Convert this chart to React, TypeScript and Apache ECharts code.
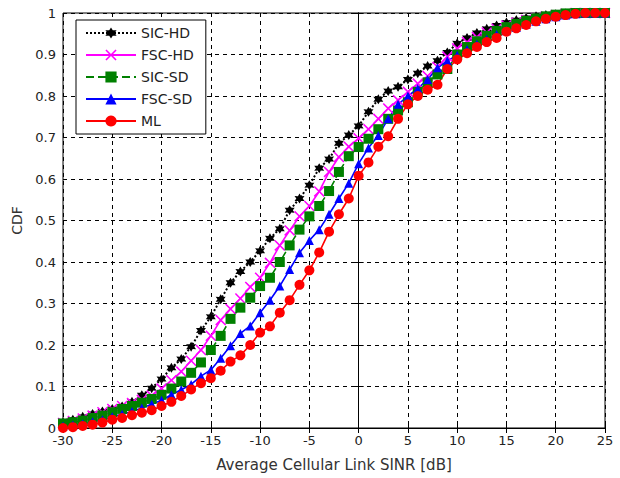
import React, { useEffect, useRef } from "react";
import * as echarts from "echarts";

const sinrDb: number[] = [];
for (let v = -30; v <= 25; v++) sinrDb.push(v);

const sicHd = [
  0.013, 0.020, 0.027, 0.034, 0.040, 0.046, 0.052, 0.063, 0.079, 0.096,
  0.118, 0.145, 0.166, 0.196, 0.235, 0.268, 0.310, 0.350, 0.377, 0.400,
  0.427, 0.457, 0.480, 0.525, 0.553, 0.585, 0.626, 0.648, 0.686, 0.706,
  0.728, 0.762, 0.792, 0.812, 0.822, 0.840, 0.855, 0.872, 0.885, 0.905,
  0.927, 0.940, 0.952, 0.962, 0.970, 0.977, 0.983, 0.988, 0.992, 0.995,
  0.997, 0.999, 1, 1, 1, 1,
];
const fscHd = [
  0.012, 0.017, 0.023, 0.030, 0.038, 0.046, 0.053, 0.060, 0.068, 0.078,
  0.095, 0.115, 0.136, 0.162, 0.188, 0.222, 0.260, 0.287, 0.312, 0.340,
  0.362, 0.398, 0.440, 0.476, 0.510, 0.535, 0.570, 0.617, 0.653, 0.678,
  0.698, 0.720, 0.745, 0.770, 0.790, 0.810, 0.830, 0.848, 0.870, 0.895,
  0.915, 0.930, 0.942, 0.953, 0.962, 0.970, 0.977, 0.983, 0.988, 0.992,
  0.995, 0.998, 1, 1, 1, 1,
];
const sicSd = [
  0.011, 0.014, 0.018, 0.024, 0.030, 0.038, 0.046, 0.053, 0.061, 0.070,
  0.080, 0.095, 0.112, 0.133, 0.158, 0.188, 0.222, 0.263, 0.290, 0.314,
  0.342, 0.362, 0.400, 0.440, 0.478, 0.510, 0.535, 0.571, 0.617, 0.655,
  0.677, 0.697, 0.720, 0.745, 0.765, 0.785, 0.810, 0.833, 0.852, 0.865,
  0.900, 0.918, 0.932, 0.945, 0.957, 0.966, 0.974, 0.981, 0.987, 0.992,
  0.996, 0.999, 1, 1, 1, 1,
];
const fscSd = [
  0.005, 0.007, 0.010, 0.015, 0.020, 0.027, 0.033, 0.040, 0.048, 0.057,
  0.067, 0.080, 0.092, 0.105, 0.125, 0.140, 0.168, 0.198, 0.228, 0.246,
  0.278, 0.308, 0.342, 0.382, 0.422, 0.452, 0.478, 0.515, 0.553, 0.590,
  0.637, 0.675, 0.705, 0.745, 0.780, 0.800, 0.818, 0.840, 0.868, 0.885,
  0.898, 0.912, 0.925, 0.937, 0.948, 0.957, 0.965, 0.973, 0.980, 0.986,
  0.991, 0.995, 0.998, 1, 1, 1,
];
const ml = [
  0.000, 0.002, 0.005, 0.008, 0.013, 0.020, 0.024, 0.031, 0.037, 0.043,
  0.053, 0.063, 0.077, 0.093, 0.108, 0.120, 0.138, 0.160, 0.175, 0.200,
  0.230, 0.245, 0.278, 0.308, 0.345, 0.380, 0.423, 0.473, 0.515, 0.553,
  0.608, 0.640, 0.678, 0.703, 0.745, 0.780, 0.800, 0.815, 0.827, 0.865,
  0.888, 0.903, 0.918, 0.930, 0.940, 0.955, 0.963, 0.971, 0.980, 0.986,
  0.991, 0.995, 0.998, 1, 1, 1,
];

const seriesNames = ["SIC-HD", "FSC-HD", "SIC-SD", "FSC-SD", "ML"];
const xTitle = "Average Cellular Link SINR [dB]";
const yTitle = "CDF";

function starPath(points: number, rOut: number, rIn: number): string {
  const parts: string[] = [];
  for (let i = 0; i < points * 2; i++) {
    const r = i % 2 === 0 ? rOut : rIn;
    const a = (Math.PI * i) / points - Math.PI / 2;
    const x = 10 + r * Math.cos(a);
    const y = 10 + r * Math.sin(a);
    parts.push((i === 0 ? "M" : "L") + x.toFixed(2) + "," + y.toFixed(2));
  }
  return "path://" + parts.join(" ") + " Z";
}

const STAR = starPath(6, 10, 5.5);
const XMARK =
  "path://M0,2 L2,0 L10,8 L18,0 L20,2 L12,10 L20,18 L18,20 L10,12 L2,20 L0,18 L8,10 Z";

const FONT = "DejaVu Sans, Liberation Sans, Arial, sans-serif";

export default function App() {
  const ref = useRef<HTMLDivElement>(null);
  useEffect(() => {
    if (!ref.current) return;
    const chart = echarts.init(ref.current, undefined, { renderer: "svg" });
    const mk = (arr: number[]) => sinrDb.map((x, i) => [x, arr[i]]);
    const styles = [
      { data: sicHd, color: "#000000", type: "dotted", width: 2, symbol: STAR, size: 10 },
      { data: fscHd, color: "#ff00ff", type: "solid", width: 1.6, symbol: XMARK, size: 11 },
      { data: sicSd, color: "#008000", type: "dashed", width: 1.6, symbol: "rect", size: 10 },
      { data: fscSd, color: "#0000ff", type: "solid", width: 1.6, symbol: "triangle", size: 9 },
      { data: ml, color: "#ff0000", type: "solid", width: 1.6, symbol: "circle", size: 10 },
    ];
    const axisCommonX = { type: "value", min: -30, max: 25, interval: 5 };
    const axisCommonY = { type: "value", min: 0, max: 1, interval: 0.1 };
    chart.setOption({
      animation: false,
      backgroundColor: "#ffffff",
      textStyle: { fontFamily: FONT },
      grid: {
        left: 63,
        top: 13,
        width: 542,
        height: 415,
        show: true,
        borderColor: "#000",
        borderWidth: 1,
        backgroundColor: "#fff",
      },
      legend: {
        orient: "vertical",
        left: 76,
        top: 20,
        data: seriesNames,
        backgroundColor: "#ffffff",
        borderColor: "#000",
        borderWidth: 1,
        borderRadius: 0,
        padding: [6, 12, 6, 9],
        itemGap: 8,
        itemWidth: 50,
        itemHeight: 14,
        textStyle: { fontFamily: FONT, fontSize: 14, color: "#222" },
      },
      xAxis: [
        {
          ...axisCommonX,
          position: "bottom",
          name: xTitle,
          nameLocation: "middle",
          nameGap: 29,
          nameTextStyle: { fontFamily: FONT, fontSize: 15, color: "#333" },
          axisLine: { show: true, lineStyle: { color: "#000", width: 1 } },
          axisTick: { show: true, inside: true, length: 5, lineStyle: { color: "#000" } },
          axisLabel: { fontFamily: FONT, fontSize: 13, color: "#222", margin: 6 },
          splitLine: { show: true, lineStyle: { color: "#000", type: [4, 4], width: 1 } },
        },
        {
          ...axisCommonX,
          position: "top",
          axisLine: { show: true, lineStyle: { color: "#000", width: 1 } },
          axisTick: { show: true, inside: true, length: 5, lineStyle: { color: "#000" } },
          axisLabel: { show: false },
          splitLine: { show: false },
        },
      ],
      yAxis: [
        {
          ...axisCommonY,
          position: "left",
          name: yTitle,
          nameLocation: "middle",
          nameGap: 34,
          nameTextStyle: { fontFamily: FONT, fontSize: 14, color: "#333" },
          axisLine: { show: true, lineStyle: { color: "#000", width: 1 } },
          axisTick: { show: true, inside: true, length: 5, lineStyle: { color: "#000" } },
          axisLabel: {
            fontFamily: FONT,
            fontSize: 13,
            color: "#222",
            margin: 7,
            formatter: (v: number) => String(Math.round(v * 10) / 10),
          },
          splitLine: { show: true, lineStyle: { color: "#000", type: [4, 4], width: 1 } },
        },
        {
          ...axisCommonY,
          position: "right",
          axisLine: { show: true, lineStyle: { color: "#000", width: 1 } },
          axisTick: { show: true, inside: true, length: 5, lineStyle: { color: "#000" } },
          axisLabel: { show: false },
          splitLine: { show: false },
        },
      ],
      series: styles.map((s, i) => ({
        name: seriesNames[i],
        type: "line",
        xAxisIndex: 0,
        yAxisIndex: 0,
        data: mk(s.data),
        symbol: s.symbol,
        symbolSize: s.size,
        showAllSymbol: true,
        color: s.color,
        itemStyle: { color: s.color, borderWidth: 0 },
        lineStyle: { color: s.color, type: s.type, width: s.width },
        emphasis: { disabled: true },
      })),
    });
    return () => chart.dispose();
  }, []);
  return (
    <div
      ref={ref}
      style={{ position: "fixed", left: 0, top: 0, width: 620, height: 478 }}
    />
  );
}
